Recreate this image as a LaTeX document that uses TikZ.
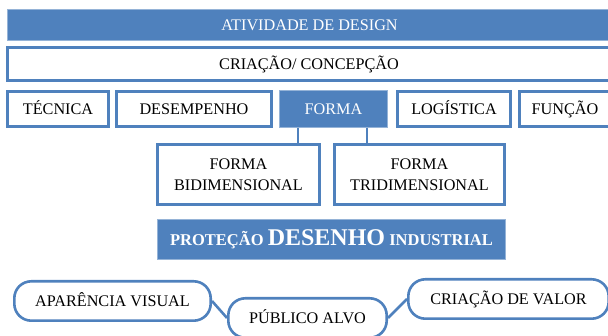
\documentclass[tikz,border=0pt]{standalone}
\usepackage{fontspec}
\setmainfont{Liberation Serif}
\definecolor{designblue}{RGB}{79,129,189}

\begin{document}
\begin{tikzpicture}
        [
            x = 1pt, y = 1pt,
            every node/.style = {inner sep = 0pt, align = center, font = \fontsize{16.2}{21.5}\selectfont},
            oneline/.style = {text height = 11, text depth = 0},
            bluebox/.style = {rectangle, fill = designblue, draw = designblue!60, line width = 1pt, text = white},
            whitebox/.style = {rectangle, fill = white, draw = designblue, line width = 2.6pt},
            pill/.style = {whitebox, oneline, rounded corners = 17pt, minimum height = 39.4},
            connector/.style = {draw = designblue, line width = 2.6pt}
        ]
        \useasboundingbox (0,0) rectangle (608,336);

        \node [bluebox, oneline, minimum width = 604, minimum height = 31] (design) at (309.5,311) {ATIVIDADE DE DESIGN};
        \node [whitebox, oneline, minimum width = 603.4, minimum height = 33.4] (criacao) at (309,272) {CRIAÇÃO/ CONCEPÇÃO};

        \node [whitebox, oneline, minimum width = 101.4, minimum height = 35.4] (tecnica) at (58,227) {TÉCNICA};
        \node [whitebox, oneline, minimum width = 155.4, minimum height = 35.4] (desempenho) at (194,227) {DESEMPENHO};
        \node [bluebox, oneline, minimum width = 108, minimum height = 37] (forma) at (333.5,227) {FORMA};
        \node [whitebox, oneline, minimum width = 113.4, minimum height = 35.4] (logistica) at (454,227) {LOGÍSTICA};
        \node [whitebox, oneline, minimum width = 91.4, minimum height = 35.4] (funcao) at (565,227) {FUNÇÃO};

        \node [whitebox, minimum width = 162.4, minimum height = 60.4] (bidim) at (238.5,161.5) {FORMA\\BIDIMENSIONAL};
        \node [whitebox, minimum width = 170.4, minimum height = 60.4] (tridim) at (419.5,161.5) {FORMA\\TRIDIMENSIONAL};
        \draw [connector] ([xshift = -35.5]forma.south) -- ([xshift = -35.5]forma.south |- bidim.north);
        \draw [connector] ([xshift = 33.5]forma.south) -- ([xshift = 33.5]forma.south |- tridim.north);

        \node [bluebox, minimum width = 348, minimum height = 40] (protecao) at (331.5,96.5)
            {\bf \fontsize{16.5}{20}\selectfont PROTEÇÃO {\fontsize{24}{24}\selectfont DESENHO} INDUSTRIAL};

        \node [pill, minimum width = 196.4] (aparencia) at (112.5,35) {APARÊNCIA VISUAL};
        \node [pill, minimum width = 158.4] (publico) at (307.5,18) {PÚBLICO ALVO};
        \node [pill, minimum width = 200.4] (valor) at (508.5,37) {CRIAÇÃO DE VALOR};
        \draw [connector] (aparencia.east) -- (publico.west);
        \draw [connector] (valor.west) -- (publico.east);
\end{tikzpicture}
\end{document}
